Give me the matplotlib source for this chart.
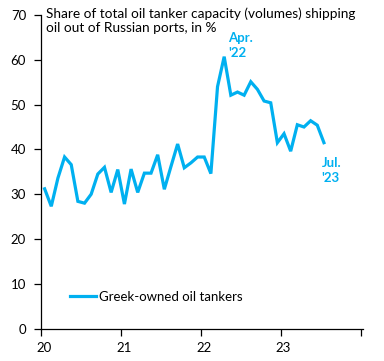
import matplotlib
matplotlib.use("Agg")
import matplotlib.pyplot as plt
import numpy as np

plt.rcParams['font.family'] = ['Lato', 'DejaVu Sans']

# Monthly values Jan 2020 .. Jul 2023 (%)
values_2020 = [31.2, 27.3, 33.6, 38.3, 36.6, 28.4, 28.0, 30.0, 34.5, 36.0, 30.4, 35.5]
values_2021 = [27.8, 35.6, 30.4, 34.7, 34.7, 38.8, 31.1, 36.2, 41.2, 35.9, 37.0, 38.3]
values_2022 = [38.3, 34.6, 54.0, 60.7, 52.1, 52.8, 52.1, 55.1, 53.4, 50.8, 50.4, 41.5]
values_2023 = [43.5, 39.6, 45.5, 45.0, 46.4, 45.4, 41.5]
values = values_2020 + values_2021 + values_2022 + values_2023
start_year = 20
series_label = "Greek-owned oil tankers"
year_ticks = [20, 21, 22, 23, 24]
year_labels = ["20", "21", "22", "23", ""]
y_ticks = [0, 10, 20, 30, 40, 50, 60, 70]
title = "Share of total oil tanker capacity (volumes) shipping\noil out of Russian ports, in %"
ann_peak = "Apr.\n'22"
ann_last = "Jul.\n'23"

color = '#00B0F0'

x = start_year + (np.arange(len(values)) + 0.5) / 12.0

fig = plt.figure(figsize=(3.84, 3.61), dpi=100)
ax = fig.add_axes([41.3/384, 1 - 328.6/361, (363.3-41.3)/384, (328.6-15)/361])

line, = ax.plot(x, values, color=color, lw=2.3, solid_joinstyle='miter', label=series_label)

ax.set_xlim(20, 24)
ax.set_ylim(0, 70)
ax.set_yticks(y_ticks)
ax.set_xticks(year_ticks)
ax.set_xticklabels([])
ax.set_xticks([t + 0.035 for t in year_ticks], minor=True)
ax.set_xticklabels(year_labels, minor=True)
ax.tick_params(axis='x', which='minor', length=0, pad=10, labelsize=9.5)
ax.tick_params(axis='x', which='major', length=5, width=0.9, direction='out')
ax.tick_params(axis='y', length=5, width=0.9, direction='out', pad=6, labelsize=9.5)

for s in ['top', 'right']:
    ax.spines[s].set_visible(False)
for s in ['left', 'bottom']:
    ax.spines[s].set_linewidth(0.9)

fig.text(46/384, 1 - 7/361, title, ha='left', va='top', fontsize=9.8, linespacing=1.22)

ax.annotate(ann_peak, xy=(x[27], values[27]), xytext=(228.3, 361 - 32), textcoords='figure pixels',
            ha='left', va='top', color=color, fontsize=9.5, fontweight='bold', linespacing=1.3)
ax.annotate(ann_last, xy=(x[-1], values[-1]), xytext=(321.7, 361 - 157), textcoords='figure pixels',
            ha='left', va='top', color=color, fontsize=9.5, fontweight='bold', linespacing=1.3)

ax.legend(loc='center left', bbox_to_anchor=(0.088, 0.102), frameon=False, fontsize=9.5,
          borderaxespad=0, borderpad=0, handletextpad=0.25, handlelength=2.0)

fig.savefig("out.png", dpi=100)
